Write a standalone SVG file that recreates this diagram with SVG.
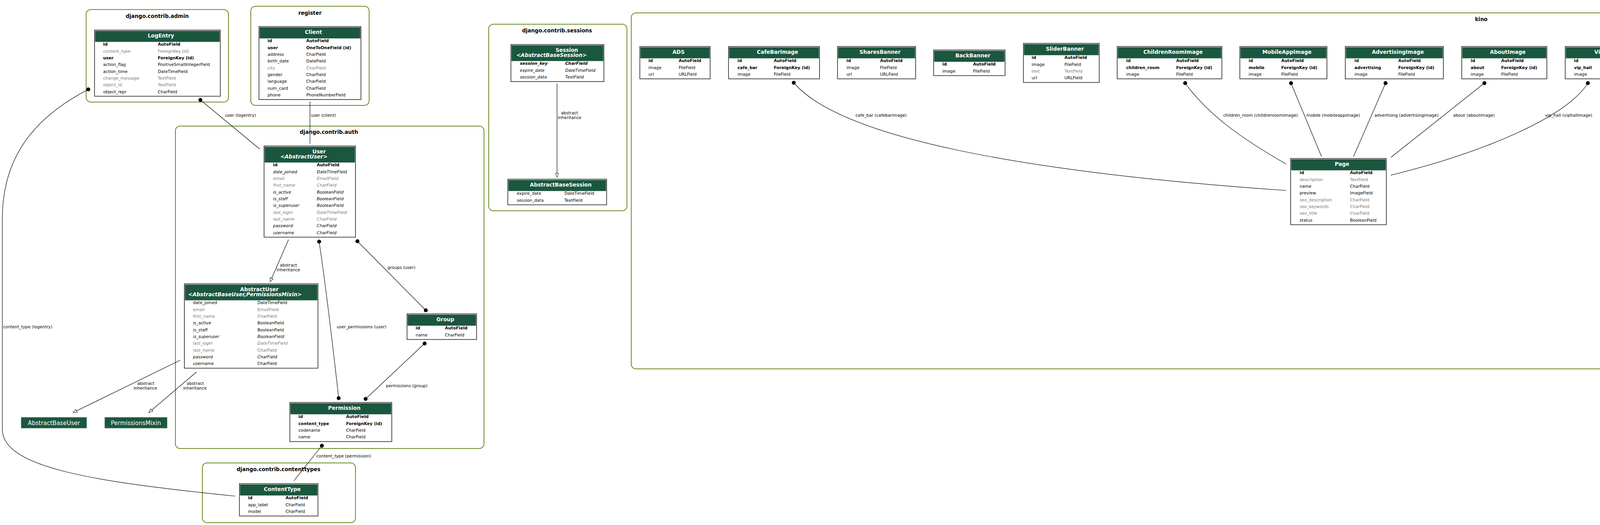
<svg xmlns="http://www.w3.org/2000/svg" width="5985" height="1345" viewBox="0 0 5985 1345">
<style>
text{font-family:"DejaVu Sans",Verdana,sans-serif}
.f{font-size:10.67px;fill:#000}
.b{font-weight:bold}
.g{fill:#7b7b7b}
.i{font-style:italic}
.h{font-size:13.33px;font-weight:bold;fill:#fff;text-anchor:middle}
.t{font-size:13.33px;font-weight:bold;fill:#000;text-anchor:middle}
.el{font-size:10.67px;fill:#000}
.c{text-anchor:middle}
.ab{font-size:15px;fill:#fff;text-anchor:middle}
.cl{fill:#fff;stroke:#698b22;stroke-width:2}
.bx{fill:#fff;stroke:#4d4d4d;stroke-width:2}
.hd{fill:#1b563f}
.sp{stroke:#a9c2b4;stroke-width:1}
.abx{fill:#1b563f;stroke:#8fae9b;stroke-width:1}
.e{fill:none;stroke:#000;stroke-width:1.2}
</style>
<defs>
<marker id="dot" viewBox="0 0 12 12" refX="6" refY="6" markerWidth="12" markerHeight="12" markerUnits="userSpaceOnUse"><circle cx="6" cy="6" r="5" fill="#000"/></marker>
<marker id="tri" viewBox="0 0 12 10" refX="11" refY="5" markerWidth="12" markerHeight="10" orient="auto" markerUnits="userSpaceOnUse"><path d="M1,1 L11,5 L1,9 z" fill="#fff" stroke="#000" stroke-width="1"/></marker>
</defs>
<rect x="0" y="0" width="5985" height="1345" fill="#fff"/>

<g id="clusters">
<rect class="cl" x="220.5" y="24.5" width="364.5" height="237" rx="12"/>
<text class="t" x="402.5" y="45.5">django.contrib.admin</text>
<rect class="cl" x="642" y="16" width="303" height="254" rx="12"/>
<text class="t" x="793.5" y="37.5">register</text>
<rect class="cl" x="449" y="323" width="790" height="826" rx="12"/>
<text class="t" x="842" y="343">django.contrib.auth</text>
<rect class="cl" x="518" y="1186" width="392" height="153" rx="12"/>
<text class="t" x="713" y="1206.5">django.contrib.contenttypes</text>
<rect class="cl" x="1251" y="62" width="354" height="478" rx="12"/>
<text class="t" x="1426" y="83">django.contrib.sessions</text>
<rect class="cl" x="1616" y="33" width="4354" height="912" rx="12"/>
<text class="t" x="3792" y="54">kino</text>
</g>

<g id="connectors">
<path class="e" marker-start="url(#dot)" d="M513,256 L665,382"/>
<text class="el" x="576" y="299">user (logentry)</text>
<path class="e" d="M793.5,260 L793.5,368"/>
<text class="el" x="796" y="299">user (client)</text>
<path class="e" marker-end="url(#tri)" d="M738.6,614 L691.5,722"/>
<text class="el c" x="738.5" y="683">abstract</text>
<text class="el c" x="738" y="695">inheritance</text>
<path class="e" marker-start="url(#dot)" marker-end="url(#dot)" d="M915,618 L1090,795"/>
<text class="el" x="992" y="689">groups (user)</text>
<path class="e" marker-start="url(#dot)" marker-end="url(#dot)" d="M817,619 Q838,760 867,1020"/>
<text class="el" x="862" y="841">user_permissions (user)</text>
<path class="e" marker-start="url(#dot)" marker-end="url(#dot)" d="M1087,880 L936,1022"/>
<text class="el" x="988" y="992">permissions (group)</text>
<path class="e" marker-end="url(#tri)" d="M461,923 L187,1057"/>
<text class="el c" x="373" y="986">abstract</text>
<text class="el c" x="372" y="998">inheritance</text>
<path class="e" marker-end="url(#tri)" d="M503,953 L381,1057"/>
<text class="el c" x="500" y="986">abstract</text>
<text class="el c" x="499" y="998">inheritance</text>
<path class="e" marker-start="url(#dot)" d="M824,1142 L752,1232"/>
<text class="el" x="810" y="1172">content_type (permission)</text>
<path class="e" marker-start="url(#dot)" d="M226,229 C90,300 6,400 6,560 L6,1100 C6,1200 250,1235 602,1271"/>
<text class="el" x="8" y="841">content_type (logentry)</text>
<path class="e" marker-end="url(#tri)" d="M1426,214 L1426,454"/>
<text class="el c" x="1458" y="293">abstract</text>
<text class="el c" x="1458" y="305">inheritance</text>
<path class="e" marker-start="url(#dot)" d="M2032,212 C2150,350 2600,440 3293,488"/>
<text class="el" x="2190" y="299">cafe_bar (cafebarimage)</text>
<path class="e" marker-start="url(#dot)" d="M3034,213 C3090,290 3170,350 3292,420"/>
<text class="el" x="3131.5" y="299">children_room (childrenroomimage)</text>
<path class="e" marker-start="url(#dot)" d="M3305,213 L3383,401"/>
<text class="el" x="3344.5" y="299">mobile (mobileappimage)</text>
<path class="e" marker-start="url(#dot)" d="M3547,213 L3465,401"/>
<text class="el" x="3518.5" y="299">advertising (advertisingimage)</text>
<path class="e" marker-start="url(#dot)" d="M3800,213 L3561,403"/>
<text class="el" x="3720" y="299">about (aboutimage)</text>
<path class="e" marker-start="url(#dot)" d="M4065,213 C4010,300 3800,390 3560,449"/>
<text class="el" x="3955.5" y="299">vip_hall (viphallimage)</text>
<path class="e" marker-start="url(#dot)" d="M4386,213 C4370,260 4361,300 4362,383"/>
<text class="el" x="4368.5" y="299">cinema_hall (cinemahallimage)</text>
<path class="e" marker-start="url(#dot)" d="M4614,238 L4471,383.6"/>
<text class="el" x="4567" y="299">cinemahall (schedule)</text>
<path class="e" marker-start="url(#dot)" d="M4700.7,239 L4693,331"/>
<text class="el" x="4699.5" y="299">film (schedule)</text>
<path class="e" marker-start="url(#dot)" d="M4933.6,212 L4812.7,335.4"/>
<text class="el" x="4859.5" y="299">film (filmimage)</text>
<path class="e" marker-start="url(#dot)" d="M5203.5,212 L5052,383"/>
<text class="el" x="5137" y="299">shares (sharesimage)</text>
<path class="e" marker-start="url(#dot)" d="M5473.5,212 L5332,383"/>
<text class="el" x="5414" y="299">news (newsimage)</text>
<path class="e" marker-start="url(#dot)" d="M4472,603 C4550,700 4900,800 5391,834"/>
<text class="el" x="4639" y="689">cinema (cinemahall)</text>
<path class="e" marker-start="url(#dot)" d="M5520,544 L5520,737"/>
<text class="el" x="5523" y="689">cinema (cinemaimage)</text>
<path class="e" marker-start="url(#dot)" d="M5745,586 L5620,737"/>
<text class="el" x="5675" y="689">cinema (contacts)</text>
</g>

<g id="LogEntry" transform="translate(242,77)">
<rect class="bx" width="322" height="169.6"/><rect class="hd" x="1.5" y="2" width="319" height="28"/><line class="sp" x1="1.5" y1="30.5" x2="320.5" y2="30.5"/>
<text class="h" x="170" y="19">LogEntry</text>
<text class="f b" x="22" y="40.3">id</text><text class="f b" x="162" y="40.3">AutoField</text>
<text class="f g" x="22" y="57.6">content_type</text><text class="f g" x="162" y="57.6">ForeignKey (id)</text>
<text class="f b" x="22" y="75">user</text><text class="f b" x="162" y="75">ForeignKey (id)</text>
<text class="f" x="22" y="92.3">action_flag</text><text class="f" x="162" y="92.3">PositiveSmallIntegerField</text>
<text class="f" x="22" y="109.6">action_time</text><text class="f" x="162" y="109.6">DateTimeField</text>
<text class="f g" x="22" y="127">change_message</text><text class="f g" x="162" y="127">TextField</text>
<text class="f g" x="22" y="144.3">object_id</text><text class="f g" x="162" y="144.3">TextField</text>
<text class="f" x="22" y="161.6">object_repr</text><text class="f" x="162" y="161.6">CharField</text>
</g>

<g id="Client" transform="translate(663,68)">
<rect class="bx" width="261" height="187"/><rect class="hd" x="1.5" y="2" width="258" height="28"/><line class="sp" x1="1.5" y1="30.5" x2="259.5" y2="30.5"/>
<text class="h" x="139.5" y="19">Client</text>
<text class="f b" x="22" y="40.3">id</text><text class="f b" x="121" y="40.3">AutoField</text>
<text class="f b" x="22" y="57.6">user</text><text class="f b" x="121" y="57.6">OneToOneField (id)</text>
<text class="f" x="22" y="75">address</text><text class="f" x="121" y="75">CharField</text>
<text class="f" x="22" y="92.3">birth_date</text><text class="f" x="121" y="92.3">DateField</text>
<text class="f g" x="22" y="109.6">city</text><text class="f g" x="121" y="109.6">CharField</text>
<text class="f" x="22" y="127">gender</text><text class="f" x="121" y="127">CharField</text>
<text class="f" x="22" y="144.3">language</text><text class="f" x="121" y="144.3">CharField</text>
<text class="f" x="22" y="161.6">num_card</text><text class="f" x="121" y="161.6">CharField</text>
<text class="f" x="22" y="178.9">phone</text><text class="f" x="121" y="178.9">PhoneNumberField</text>
</g>

<g id="User" transform="translate(676,374)">
<rect class="bx" width="234" height="233.6"/><rect class="hd" x="1.5" y="2" width="231" height="40"/><line class="sp" x1="1.5" y1="42.5" x2="232.5" y2="42.5"/>
<text class="h" x="141" y="19">User</text>
<text class="h i" x="102" y="31.5">&lt;AbstractUser&gt;</text>
<text class="f b" x="23" y="52.3">id</text><text class="f b" x="135" y="52.3">AutoField</text>
<text class="f i" x="23" y="69.6">date_joined</text><text class="f i" x="135" y="69.6">DateTimeField</text>
<text class="f i g" x="23" y="87">email</text><text class="f i g" x="135" y="87">EmailField</text>
<text class="f i g" x="23" y="104.3">first_name</text><text class="f i g" x="135" y="104.3">CharField</text>
<text class="f i" x="23" y="121.6">is_active</text><text class="f i" x="135" y="121.6">BooleanField</text>
<text class="f i" x="23" y="139">is_staff</text><text class="f i" x="135" y="139">BooleanField</text>
<text class="f i" x="23" y="156.3">is_superuser</text><text class="f i" x="135" y="156.3">BooleanField</text>
<text class="f i g" x="23" y="173.6">last_login</text><text class="f i g" x="135" y="173.6">DateTimeField</text>
<text class="f i g" x="23" y="190.9">last_name</text><text class="f i g" x="135" y="190.9">CharField</text>
<text class="f i" x="23" y="208.3">password</text><text class="f i" x="135" y="208.3">CharField</text>
<text class="f i" x="23" y="225.6">username</text><text class="f i" x="135" y="225.6">CharField</text>
</g>

<g id="AbstractUser" transform="translate(472,727)">
<rect class="bx" width="342" height="216.3"/><rect class="hd" x="1.5" y="2" width="339" height="40"/><line class="sp" x1="1.5" y1="42.5" x2="340.5" y2="42.5"/>
<text class="h" x="192" y="19">AbstractUser</text>
<text class="h i" x="155" y="31.5">&lt;AbstractBaseUser,PermissionsMixin&gt;</text>
<text class="f" x="22" y="52.3">date_joined</text><text class="f" x="187" y="52.3">DateTimeField</text>
<text class="f g" x="22" y="69.6">email</text><text class="f g" x="187" y="69.6">EmailField</text>
<text class="f g" x="22" y="87">first_name</text><text class="f g" x="187" y="87">CharField</text>
<text class="f" x="22" y="104.3">is_active</text><text class="f" x="187" y="104.3">BooleanField</text>
<text class="f" x="22" y="121.6">is_staff</text><text class="f" x="187" y="121.6">BooleanField</text>
<text class="f i" x="22" y="139">is_superuser</text><text class="f i" x="187" y="139">BooleanField</text>
<text class="f i g" x="22" y="156.3">last_login</text><text class="f i g" x="187" y="156.3">DateTimeField</text>
<text class="f g" x="22" y="173.6">last_name</text><text class="f g" x="187" y="173.6">CharField</text>
<text class="f i" x="22" y="190.9">password</text><text class="f i" x="187" y="190.9">CharField</text>
<text class="f" x="22" y="208.3">username</text><text class="f" x="187" y="208.3">CharField</text>
</g>

<g id="Group" transform="translate(1042,804)">
<rect class="bx" width="178" height="65.7"/><rect class="hd" x="1.5" y="2" width="175" height="28"/><line class="sp" x1="1.5" y1="30.5" x2="176.5" y2="30.5"/>
<text class="h" x="98" y="19">Group</text>
<text class="f b" x="22" y="40.3">id</text><text class="f b" x="97" y="40.3">AutoField</text>
<text class="f" x="22" y="57.6">name</text><text class="f" x="97" y="57.6">CharField</text>
</g>

<g id="Permission" transform="translate(742,1031)">
<rect class="bx" width="261" height="100.3"/><rect class="hd" x="1.5" y="2" width="258" height="28"/><line class="sp" x1="1.5" y1="30.5" x2="259.5" y2="30.5"/>
<text class="h" x="139.5" y="19">Permission</text>
<text class="f b" x="22" y="40.3">id</text><text class="f b" x="144" y="40.3">AutoField</text>
<text class="f b" x="22" y="57.6">content_type</text><text class="f b" x="144" y="57.6">ForeignKey (id)</text>
<text class="f" x="22" y="75">codename</text><text class="f" x="144" y="75">CharField</text>
<text class="f" x="22" y="92.3">name</text><text class="f" x="144" y="92.3">CharField</text>
</g>

<g id="ContentType" transform="translate(613,1239)">
<rect class="bx" width="201" height="83"/><rect class="hd" x="1.5" y="2" width="198" height="28"/><line class="sp" x1="1.5" y1="30.5" x2="199.5" y2="30.5"/>
<text class="h" x="109.5" y="19">ContentType</text>
<text class="f b" x="22" y="40.3">id</text><text class="f b" x="118" y="40.3">AutoField</text>
<text class="f" x="22" y="57.6">app_label</text><text class="f" x="118" y="57.6">CharField</text>
<text class="f" x="22" y="75">model</text><text class="f" x="118" y="75">CharField</text>
</g>

<g id="AbstractBaseUser">
<rect class="abx" x="54" y="1069" width="168" height="28"/>
<text class="ab" x="138" y="1088.5">AbstractBaseUser</text>
</g>
<g id="PermissionsMixin">
<rect class="abx" x="268" y="1069" width="160" height="28"/>
<text class="ab" x="348" y="1088.5">PermissionsMixin</text>
</g>

<g id="Session" transform="translate(1308,114)">
<rect class="bx" width="238" height="95"/><rect class="hd" x="1.5" y="2" width="235" height="40"/><line class="sp" x1="1.5" y1="42.5" x2="236.5" y2="42.5"/>
<text class="h" x="143" y="19">Session</text>
<text class="h i" x="104" y="31.5">&lt;AbstractBaseSession&gt;</text>
<text class="f b i" x="23" y="52.3">session_key</text><text class="f b i" x="139" y="52.3">CharField</text>
<text class="f i" x="23" y="69.6">expire_date</text><text class="f i" x="139" y="69.6">DateTimeField</text>
<text class="f i" x="23" y="87">session_data</text><text class="f i" x="139" y="87">TextField</text>
</g>

<g id="AbstractBaseSession" transform="translate(1300,459)">
<rect class="bx" width="253" height="65.7"/><rect class="hd" x="1.5" y="2" width="250" height="28"/><line class="sp" x1="1.5" y1="30.5" x2="251.5" y2="30.5"/>
<text class="h" x="135.5" y="19">AbstractBaseSession</text>
<text class="f" x="23" y="40.3">expire_date</text><text class="f" x="145" y="40.3">DateTimeField</text>
<text class="f" x="23" y="57.6">session_data</text><text class="f" x="145" y="57.6">TextField</text>
</g>

<g id="ADS" transform="translate(1638,119)">
<rect class="bx" width="180" height="83"/><rect class="hd" x="1.5" y="2" width="177" height="28"/><line class="sp" x1="1.5" y1="30.5" x2="178.5" y2="30.5"/>
<text class="h" x="99" y="19">ADS</text>
<text class="f b" x="22" y="40.3">id</text><text class="f b" x="99.5" y="40.3">AutoField</text>
<text class="f" x="22" y="57.6">image</text><text class="f" x="99.5" y="57.6">FileField</text>
<text class="f" x="22" y="75">url</text><text class="f" x="99.5" y="75">URLField</text>
</g>

<g id="CafeBarImage" transform="translate(1865,119)">
<rect class="bx" width="233" height="83"/><rect class="hd" x="1.5" y="2" width="230" height="28"/><line class="sp" x1="1.5" y1="30.5" x2="231.5" y2="30.5"/>
<text class="h" x="125.5" y="19">CafeBarImage</text>
<text class="f b" x="23" y="40.3">id</text><text class="f b" x="116" y="40.3">AutoField</text>
<text class="f b" x="23" y="57.6">cafe_bar</text><text class="f b" x="116" y="57.6">ForeignKey (id)</text>
<text class="f" x="23" y="75">image</text><text class="f" x="116" y="75">FileField</text>
</g>

<g id="SharesBanner" transform="translate(2144,119)">
<rect class="bx" width="200" height="83"/><rect class="hd" x="1.5" y="2" width="197" height="28"/><line class="sp" x1="1.5" y1="30.5" x2="198.5" y2="30.5"/>
<text class="h" x="109" y="19">SharesBanner</text>
<text class="f b" x="23" y="40.3">id</text><text class="f b" x="109" y="40.3">AutoField</text>
<text class="f" x="23" y="57.6">image</text><text class="f" x="109" y="57.6">FileField</text>
<text class="f" x="23" y="75">url</text><text class="f" x="109" y="75">URLField</text>
</g>

<g id="BackBanner" transform="translate(2390,128)">
<rect class="bx" width="183" height="65.7"/><rect class="hd" x="1.5" y="2" width="180" height="28"/><line class="sp" x1="1.5" y1="30.5" x2="181.5" y2="30.5"/>
<text class="h" x="100.5" y="19">BackBanner</text>
<text class="f b" x="22.5" y="40.3">id</text><text class="f b" x="101" y="40.3">AutoField</text>
<text class="f" x="22.5" y="57.6">image</text><text class="f" x="101" y="57.6">FileField</text>
</g>

<g id="SliderBanner" transform="translate(2620,111)">
<rect class="bx" width="194" height="100.3"/><rect class="hd" x="1.5" y="2" width="191" height="28"/><line class="sp" x1="1.5" y1="30.5" x2="192.5" y2="30.5"/>
<text class="h" x="106" y="19">SliderBanner</text>
<text class="f b" x="21" y="40.3">id</text><text class="f b" x="105" y="40.3">AutoField</text>
<text class="f" x="21" y="57.6">image</text><text class="f" x="105" y="57.6">FileField</text>
<text class="f g" x="21" y="75">text</text><text class="f g" x="105" y="75">TextField</text>
<text class="f" x="21" y="92.3">url</text><text class="f" x="105" y="92.3">URLField</text>
</g>

<g id="ChildrenRoomImage" transform="translate(2860,119)">
<rect class="bx" width="268" height="83"/><rect class="hd" x="1.5" y="2" width="265" height="28"/><line class="sp" x1="1.5" y1="30.5" x2="266.5" y2="30.5"/>
<text class="h" x="143" y="19">ChildrenRoomImage</text>
<text class="f b" x="23" y="40.3">id</text><text class="f b" x="151" y="40.3">AutoField</text>
<text class="f b" x="23" y="57.6">children_room</text><text class="f b" x="151" y="57.6">ForeignKey (id)</text>
<text class="f" x="23" y="75">image</text><text class="f" x="151" y="75">FileField</text>
</g>

<g id="MobileAppImage" transform="translate(3174,119)">
<rect class="bx" width="223" height="83"/><rect class="hd" x="1.5" y="2" width="220" height="28"/><line class="sp" x1="1.5" y1="30.5" x2="221.5" y2="30.5"/>
<text class="h" x="120.5" y="19">MobileAppImage</text>
<text class="f b" x="22.5" y="40.3">id</text><text class="f b" x="106" y="40.3">AutoField</text>
<text class="f b" x="22.5" y="57.6">mobile</text><text class="f b" x="106" y="57.6">ForeignKey (id)</text>
<text class="f" x="22.5" y="75">image</text><text class="f" x="106" y="75">FileField</text>
</g>

<g id="AdvertisingImage" transform="translate(3444,119)">
<rect class="bx" width="251" height="83"/><rect class="hd" x="1.5" y="2" width="248" height="28"/><line class="sp" x1="1.5" y1="30.5" x2="249.5" y2="30.5"/>
<text class="h" x="134.5" y="19">AdvertisingImage</text>
<text class="f b" x="23.5" y="40.3">id</text><text class="f b" x="135.5" y="40.3">AutoField</text>
<text class="f b" x="23.5" y="57.6">advertising</text><text class="f b" x="135.5" y="57.6">ForeignKey (id)</text>
<text class="f" x="23.5" y="75">image</text><text class="f" x="135.5" y="75">FileField</text>
</g>

<g id="AboutImage" transform="translate(3742,119)">
<rect class="bx" width="218" height="83"/><rect class="hd" x="1.5" y="2" width="215" height="28"/><line class="sp" x1="1.5" y1="30.5" x2="216.5" y2="30.5"/>
<text class="h" x="118" y="19">AboutImage</text>
<text class="f b" x="23" y="40.3">id</text><text class="f b" x="101" y="40.3">AutoField</text>
<text class="f b" x="23" y="57.6">about</text><text class="f b" x="101" y="57.6">ForeignKey (id)</text>
<text class="f" x="23" y="75">image</text><text class="f" x="101" y="75">FileField</text>
</g>

<g id="VipHallImage" transform="translate(4007,119)">
<rect class="bx" width="231" height="83"/><rect class="hd" x="1.5" y="2" width="228" height="28"/><line class="sp" x1="1.5" y1="30.5" x2="229.5" y2="30.5"/>
<text class="h" x="124.5" y="19">VipHallImage</text>
<text class="f b" x="22.5" y="40.3">id</text><text class="f b" x="113.5" y="40.3">AutoField</text>
<text class="f b" x="22.5" y="57.6">vip_hall</text><text class="f b" x="113.5" y="57.6">ForeignKey (id)</text>
<text class="f" x="22.5" y="75">image</text><text class="f" x="113.5" y="75">FileField</text>
</g>

<g id="CinemaHallImage" transform="translate(4283,120)">
<rect class="bx" width="254" height="83"/><rect class="hd" x="1.5" y="2" width="251" height="28"/><line class="sp" x1="1.5" y1="30.5" x2="252.5" y2="30.5"/>
<text class="h" x="136" y="19">CinemaHallImage</text>
<text class="f b" x="22" y="40.3">id</text><text class="f b" x="137" y="40.3">AutoField</text>
<text class="f b" x="22" y="57.6">cinema_hall</text><text class="f b" x="137" y="57.6">ForeignKey (id)</text>
<text class="f" x="22" y="75">image</text><text class="f" x="137" y="75">FileField</text>
</g>

<g id="Schedule" transform="translate(4582,93)">
<rect class="bx" width="249" height="135"/><rect class="hd" x="1.5" y="2" width="246" height="28"/><line class="sp" x1="1.5" y1="30.5" x2="247.5" y2="30.5"/>
<text class="h" x="133.5" y="19">Schedule</text>
<text class="f b" x="23" y="40.3">id</text><text class="f b" x="133" y="40.3">AutoField</text>
<text class="f b" x="23" y="57.6">cinemahall</text><text class="f b" x="133" y="57.6">ForeignKey (id)</text>
<text class="f b" x="23" y="75">film</text><text class="f b" x="133" y="75">ForeignKey (id)</text>
<text class="f" x="23" y="92.3">cost</text><text class="f" x="133" y="92.3">CharField</text>
<text class="f" x="23" y="109.6">date</text><text class="f" x="133" y="109.6">DateField</text>
<text class="f" x="23" y="127">time</text><text class="f" x="133" y="127">TimeField</text>
</g>

<g id="FilmImage" transform="translate(4877,120)">
<rect class="bx" width="217" height="83"/><rect class="hd" x="1.5" y="2" width="214" height="28"/><line class="sp" x1="1.5" y1="30.5" x2="215.5" y2="30.5"/>
<text class="h" x="117.5" y="19">FilmImage</text>
<text class="f b" x="22" y="40.3">id</text><text class="f b" x="100" y="40.3">AutoField</text>
<text class="f b" x="22" y="57.6">film</text><text class="f b" x="100" y="57.6">ForeignKey (id)</text>
<text class="f" x="22" y="75">image</text><text class="f" x="100" y="75">FileField</text>
</g>

<g id="SharesImage" transform="translate(5139,120)">
<rect class="bx" width="223" height="83"/><rect class="hd" x="1.5" y="2" width="220" height="28"/><line class="sp" x1="1.5" y1="30.5" x2="221.5" y2="30.5"/>
<text class="h" x="120.5" y="19">SharesImage</text>
<text class="f b" x="23.5" y="40.3">id</text><text class="f b" x="105.5" y="40.3">AutoField</text>
<text class="f b" x="23.5" y="57.6">shares</text><text class="f b" x="105.5" y="57.6">ForeignKey (id)</text>
<text class="f" x="23.5" y="75">image</text><text class="f" x="105.5" y="75">FileField</text>
</g>

<g id="NewsImage" transform="translate(5407,120)">
<rect class="bx" width="218" height="83"/><rect class="hd" x="1.5" y="2" width="215" height="28"/><line class="sp" x1="1.5" y1="30.5" x2="216.5" y2="30.5"/>
<text class="h" x="118" y="19">NewsImage</text>
<text class="f b" x="23" y="40.3">id</text><text class="f b" x="101" y="40.3">AutoField</text>
<text class="f b" x="23" y="57.6">news</text><text class="f b" x="101" y="57.6">ForeignKey (id)</text>
<text class="f" x="23" y="75">image</text><text class="f" x="101" y="75">FileField</text>
</g>

<g id="HomePage" transform="translate(5670,84)">
<rect class="bx" width="278" height="152.3"/><rect class="hd" x="1.5" y="2" width="275" height="28"/><line class="sp" x1="1.5" y1="30.5" x2="276.5" y2="30.5"/>
<text class="h" x="148" y="19">HomePage</text>
<text class="f b" x="21" y="40.3">id</text><text class="f b" x="152" y="40.3">AutoField</text>
<text class="f" x="21" y="57.6">phone1</text><text class="f" x="152" y="57.6">PhoneNumberField</text>
<text class="f" x="21" y="75">phone2</text><text class="f" x="152" y="75">PhoneNumberField</text>
<text class="f g" x="21" y="92.3">seo_description</text><text class="f g" x="152" y="92.3">CharField</text>
<text class="f g" x="21" y="109.6">seo_keywords</text><text class="f g" x="152" y="109.6">CharField</text>
<text class="f" x="21" y="127">seo_text</text><text class="f" x="152" y="127">TextField</text>
<text class="f g" x="21" y="144.3">seo_title</text><text class="f g" x="152" y="144.3">CharField</text>
</g>

<g id="Page" transform="translate(3304,406)">
<rect class="bx" width="245" height="169.6"/><rect class="hd" x="1.5" y="2" width="242" height="28"/><line class="sp" x1="1.5" y1="30.5" x2="243.5" y2="30.5"/>
<text class="h" x="131.5" y="19">Page</text>
<text class="f b" x="23" y="40.3">id</text><text class="f b" x="152" y="40.3">AutoField</text>
<text class="f g" x="23" y="57.6">description</text><text class="f g" x="152" y="57.6">TextField</text>
<text class="f" x="23" y="75">name</text><text class="f" x="152" y="75">CharField</text>
<text class="f" x="23" y="92.3">preview</text><text class="f" x="152" y="92.3">ImageField</text>
<text class="f g" x="23" y="109.6">seo_description</text><text class="f g" x="152" y="109.6">CharField</text>
<text class="f g" x="23" y="127">seo_keywords</text><text class="f g" x="152" y="127">CharField</text>
<text class="f g" x="23" y="144.3">seo_title</text><text class="f g" x="152" y="144.3">CharField</text>
<text class="f" x="23" y="161.6">status</text><text class="f" x="152" y="161.6">BooleanField</text>
</g>

<g id="CinemaHall" transform="translate(4247,389)">
<rect class="bx" width="269" height="204.3"/><rect class="hd" x="1.5" y="2" width="266" height="28"/><line class="sp" x1="1.5" y1="30.5" x2="267.5" y2="30.5"/>
<text class="h" x="143.5" y="19">CinemaHall</text>
<text class="f b" x="22" y="40.3">id</text><text class="f b" x="152" y="40.3">AutoField</text>
<text class="f b" x="22" y="57.6">cinema</text><text class="f b" x="152" y="57.6">ForeignKey (id)</text>
<text class="f" x="22" y="75">created_date</text><text class="f" x="152" y="75">DateField</text>
<text class="f g" x="22" y="92.3">description</text><text class="f g" x="152" y="92.3">TextField</text>
<text class="f" x="22" y="109.6">name</text><text class="f" x="152" y="109.6">CharField</text>
<text class="f" x="22" y="127">preview</text><text class="f" x="152" y="127">ImageField</text>
<text class="f" x="22" y="144.3">scheme</text><text class="f" x="152" y="144.3">ImageField</text>
<text class="f g" x="22" y="161.6">seo_description</text><text class="f g" x="152" y="161.6">CharField</text>
<text class="f g" x="22" y="178.9">seo_keywords</text><text class="f g" x="152" y="178.9">CharField</text>
<text class="f g" x="22" y="196.3">seo_title</text><text class="f g" x="152" y="196.3">CharField</text>
</g>

<g id="Film" transform="translate(4561,337)">
<rect class="bx" width="240" height="308.3"/><rect class="hd" x="1.5" y="2" width="237" height="28"/><line class="sp" x1="1.5" y1="30.5" x2="238.5" y2="30.5"/>
<text class="h" x="129" y="19">Film</text>
<text class="f b" x="23" y="40.3">id</text><text class="f b" x="152" y="40.3">AutoField</text>
<text class="f" x="23" y="57.6">country</text><text class="f" x="152" y="57.6">CharField</text>
<text class="f" x="23" y="75">description</text><text class="f" x="152" y="75">TextField</text>
<text class="f" x="23" y="92.3">director</text><text class="f" x="152" y="92.3">CharField</text>
<text class="f" x="23" y="109.6">genre</text><text class="f" x="152" y="109.6">CharField</text>
<text class="f" x="23" y="127">music</text><text class="f" x="152" y="127">CharField</text>
<text class="f" x="23" y="144.3">name</text><text class="f" x="152" y="144.3">CharField</text>
<text class="f" x="23" y="161.6">premiere</text><text class="f" x="152" y="161.6">DateField</text>
<text class="f" x="23" y="178.9">preview</text><text class="f" x="152" y="178.9">FileField</text>
<text class="f" x="23" y="196.3">producer</text><text class="f" x="152" y="196.3">CharField</text>
<text class="f" x="23" y="213.6">scenarist</text><text class="f" x="152" y="213.6">CharField</text>
<text class="f g" x="23" y="230.9">seo_description</text><text class="f g" x="152" y="230.9">CharField</text>
<text class="f g" x="23" y="248.3">seo_keywords</text><text class="f g" x="152" y="248.3">CharField</text>
<text class="f g" x="23" y="265.6">seo_title</text><text class="f g" x="152" y="265.6">CharField</text>
<text class="f g" x="23" y="282.9">video</text><text class="f g" x="152" y="282.9">URLField</text>
<text class="f" x="23" y="300.3">year</text><text class="f" x="152" y="300.3">IntegerField</text>
</g>

<g id="Shares" transform="translate(4847,389)">
<rect class="bx" width="234" height="204.3"/><rect class="hd" x="1.5" y="2" width="231" height="28"/><line class="sp" x1="1.5" y1="30.5" x2="232.5" y2="30.5"/>
<text class="h" x="126" y="19">Shares</text>
<text class="f b" x="22" y="40.3">id</text><text class="f b" x="152" y="40.3">AutoField</text>
<text class="f g" x="22" y="57.6">description</text><text class="f g" x="152" y="57.6">TextField</text>
<text class="f" x="22" y="75">name</text><text class="f" x="152" y="75">CharField</text>
<text class="f" x="22" y="92.3">preview</text><text class="f" x="152" y="92.3">ImageField</text>
<text class="f" x="22" y="109.6">pub_date</text><text class="f" x="152" y="109.6">DateField</text>
<text class="f g" x="22" y="127">seo_description</text><text class="f g" x="152" y="127">CharField</text>
<text class="f g" x="22" y="144.3">seo_keywords</text><text class="f g" x="152" y="144.3">CharField</text>
<text class="f g" x="22" y="161.6">seo_title</text><text class="f g" x="152" y="161.6">CharField</text>
<text class="f g" x="22" y="178.9">status</text><text class="f g" x="152" y="178.9">CharField</text>
<text class="f g" x="22" y="196.3">video</text><text class="f g" x="152" y="196.3">URLField</text>
</g>

<g id="News" transform="translate(5127,389)">
<rect class="bx" width="234" height="204.3"/><rect class="hd" x="1.5" y="2" width="231" height="28"/><line class="sp" x1="1.5" y1="30.5" x2="232.5" y2="30.5"/>
<text class="h" x="126" y="19">News</text>
<text class="f b" x="22" y="40.3">id</text><text class="f b" x="152" y="40.3">AutoField</text>
<text class="f" x="22" y="57.6">description</text><text class="f" x="152" y="57.6">TextField</text>
<text class="f" x="22" y="75">name</text><text class="f" x="152" y="75">CharField</text>
<text class="f" x="22" y="92.3">preview</text><text class="f" x="152" y="92.3">ImageField</text>
<text class="f" x="22" y="109.6">pub_date</text><text class="f" x="152" y="109.6">DateField</text>
<text class="f g" x="22" y="127">seo_description</text><text class="f g" x="152" y="127">CharField</text>
<text class="f g" x="22" y="144.3">seo_keywords</text><text class="f g" x="152" y="144.3">CharField</text>
<text class="f g" x="22" y="161.6">seo_title</text><text class="f g" x="152" y="161.6">CharField</text>
<text class="f" x="22" y="178.9">status</text><text class="f" x="152" y="178.9">CharField</text>
<text class="f g" x="22" y="196.3">video</text><text class="f g" x="152" y="196.3">URLField</text>
</g>

<g id="CinemaImage" transform="translate(5407,450)">
<rect class="bx" width="226" height="83"/><rect class="hd" x="1.5" y="2" width="223" height="28"/><line class="sp" x1="1.5" y1="30.5" x2="224.5" y2="30.5"/>
<text class="h" x="122" y="19">CinemaImage</text>
<text class="f b" x="21" y="40.3">id</text><text class="f b" x="109" y="40.3">AutoField</text>
<text class="f b" x="21" y="57.6">cinema</text><text class="f b" x="109" y="57.6">ForeignKey (id)</text>
<text class="f" x="21" y="75">image</text><text class="f" x="109" y="75">FileField</text>
</g>

<g id="Contacts" transform="translate(5678,406)">
<rect class="bx" width="270" height="169.6"/><rect class="hd" x="1.5" y="2" width="267" height="28"/><line class="sp" x1="1.5" y1="30.5" x2="268.5" y2="30.5"/>
<text class="h" x="144" y="19">Contacts</text>
<text class="f b" x="23" y="40.3">id</text><text class="f b" x="153" y="40.3">AutoField</text>
<text class="f b" x="23" y="57.6">cinema</text><text class="f b" x="153" y="57.6">ForeignKey (id)</text>
<text class="f g" x="23" y="75">address</text><text class="f g" x="153" y="75">TextField</text>
<text class="f" x="23" y="92.3">coordinates</text><text class="f" x="153" y="92.3">CharField</text>
<text class="f g" x="23" y="109.6">seo_description</text><text class="f g" x="153" y="109.6">CharField</text>
<text class="f g" x="23" y="127">seo_keywords</text><text class="f g" x="153" y="127">CharField</text>
<text class="f g" x="23" y="144.3">seo_title</text><text class="f g" x="153" y="144.3">CharField</text>
<text class="f" x="23" y="161.6">status</text><text class="f" x="153" y="161.6">BooleanField</text>
</g>

<g id="Cinema" transform="translate(5404,742)">
<rect class="bx" width="233" height="187"/><rect class="hd" x="1.5" y="2" width="230" height="28"/><line class="sp" x1="1.5" y1="30.5" x2="231.5" y2="30.5"/>
<text class="h" x="125.5" y="19">Cinema</text>
<text class="f b" x="22" y="40.3">id</text><text class="f b" x="152" y="40.3">AutoField</text>
<text class="f g" x="22" y="57.6">conditions</text><text class="f g" x="152" y="57.6">TextField</text>
<text class="f g" x="22" y="75">description</text><text class="f g" x="152" y="75">TextField</text>
<text class="f g" x="22" y="92.3">logo</text><text class="f g" x="152" y="92.3">ImageField</text>
<text class="f" x="22" y="109.6">name</text><text class="f" x="152" y="109.6">CharField</text>
<text class="f g" x="22" y="127">preview</text><text class="f g" x="152" y="127">ImageField</text>
<text class="f g" x="22" y="144.3">seo_description</text><text class="f g" x="152" y="144.3">TextField</text>
<text class="f g" x="22" y="161.6">seo_keywords</text><text class="f g" x="152" y="161.6">CharField</text>
<text class="f g" x="22" y="178.9">seo_title</text><text class="f g" x="152" y="178.9">CharField</text>
</g>
</svg>
